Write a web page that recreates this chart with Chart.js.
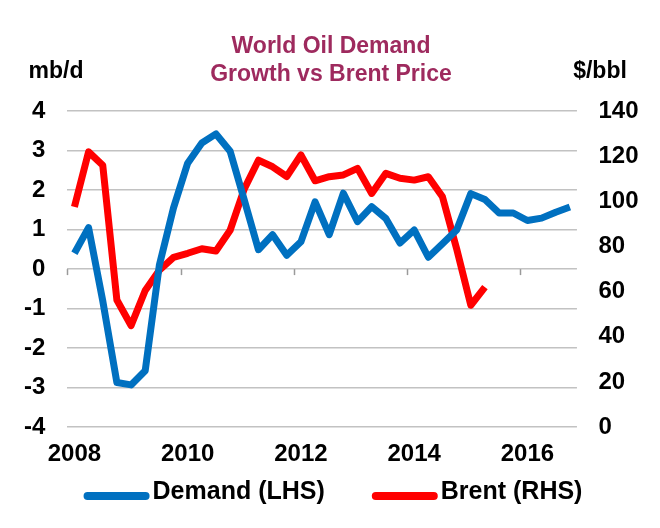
<!DOCTYPE html>
<html>
<head>
<meta charset="utf-8">
<script src="https://cdn.jsdelivr.net/npm/chart.js@4"></script>
<style>
  html, body { margin: 0; padding: 0; background: #ffffff; }
  #wrap { width: 660px; height: 528px; }
</style>
</head>
<body>
<div id="wrap"><canvas id="c" width="660" height="528"></canvas></div>
<script>
// Quarterly categories 2008Q1 .. 2016Q4
const quarters = [
  '2008 Q1','2008 Q2','2008 Q3','2008 Q4',
  '2009 Q1','2009 Q2','2009 Q3','2009 Q4',
  '2010 Q1','2010 Q2','2010 Q3','2010 Q4',
  '2011 Q1','2011 Q2','2011 Q3','2011 Q4',
  '2012 Q1','2012 Q2','2012 Q3','2012 Q4',
  '2013 Q1','2013 Q2','2013 Q3','2013 Q4',
  '2014 Q1','2014 Q2','2014 Q3','2014 Q4',
  '2015 Q1','2015 Q2','2015 Q3','2015 Q4',
  '2016 Q1','2016 Q2','2016 Q3','2016 Q4'
];
const yearTickLabels = ['2008', '2010', '2012', '2014', '2016'];

// World oil demand growth, mb/d (left axis)
const demandGrowth = [
  0.40, 1.05, -0.80, -2.87, -2.93, -2.57, 0.10, 1.55,
  2.68, 3.19, 3.42, 2.98, 1.75, 0.49, 0.87, 0.35,
  0.69, 1.70, 0.87, 1.92, 1.20, 1.58, 1.28, 0.66,
  0.99, 0.30, 0.64, 0.99, 1.91, 1.76, 1.42, 1.42,
  1.23, 1.29, 1.44, 1.57
];

// Brent price, $/bbl (right axis)
const brentPrice = [
  97.6, 121.9, 116.0, 56.3, 45.0, 60.5, 69.5, 75.2,
  77.0, 79.0, 78.0, 87.2, 105.5, 118.2, 115.3, 111.0,
  120.5, 109.1, 110.9, 111.7, 114.6, 103.5, 112.4, 110.2,
  109.4, 110.9, 102.0, 79.0, 54.0, 62.0, null, null,
  null, null, null, null
];

const seriesNames = ['Demand (LHS)', 'Brent (RHS)'];
const leftAxisTitle = 'mb/d';
const rightAxisTitle = '$/bbl';
const chartTitle = ['World Oil Demand', 'Growth vs Brent Price'];

const FONT = "'Liberation Sans', Arial, Helvetica, sans-serif";
const BLUE = '#0070C0';
const RED = '#FF0000';

// Small tick marks on the zero line at the year boundaries
const zeroTicks = {
  id: 'zeroTicks',
  beforeDatasetsDraw(chart) {
    const x = chart.scales.x, y = chart.scales.y;
    const ctx = chart.ctx;
    const half = (x.getPixelForValue(1) - x.getPixelForValue(0)) / 2;
    const y0 = y.getPixelForValue(0);
    ctx.save();
    ctx.strokeStyle = '#9A9A9A';
    ctx.lineWidth = 1.5;
    for (let i = 0; i < quarters.length; i += 8) {
      const px = Math.round(x.getPixelForValue(i) - half) + 0.5;
      ctx.beginPath();
      ctx.moveTo(px, y0);
      ctx.lineTo(px, y0 + 6);
      ctx.stroke();
    }
    ctx.restore();
  }
};

// Axis unit captions above each value axis
const unitCaptions = {
  id: 'unitCaptions',
  afterDraw(chart) {
    const ctx = chart.ctx;
    ctx.save();
    ctx.fillStyle = '#000000';
    ctx.font = 'bold 23px ' + FONT;
    ctx.textBaseline = 'alphabetic';
    ctx.textAlign = 'center';
    ctx.fillText(leftAxisTitle, 56, 78);
    ctx.fillText(rightAxisTitle, 600, 78);
    ctx.restore();
  }
};

// Legend drawn below the axis, line sample touching the text
const lineLegend = {
  id: 'lineLegend',
  afterDraw(chart) {
    const ctx = chart.ctx;
    const ds = chart.data.datasets;
    const sampleW = 66, gapText = 3, gapItems = 47;
    ctx.save();
    ctx.font = 'bold 25px ' + FONT;
    const widths = ds.map(d => ctx.measureText(d.label).width);
    let total = 0;
    widths.forEach((w, i) => { total += sampleW + gapText + w + (i ? gapItems : 0); });
    let x = 333 - total / 2;
    const yLine = 496, yText = 499;
    ds.forEach((d, i) => {
      ctx.strokeStyle = d.borderColor;
      ctx.lineWidth = 8;
      ctx.lineCap = 'round';
      ctx.beginPath();
      ctx.moveTo(x + 4, yLine);
      ctx.lineTo(x + sampleW - 4, yLine);
      ctx.stroke();
      ctx.fillStyle = '#000000';
      ctx.textAlign = 'left';
      ctx.textBaseline = 'alphabetic';
      ctx.fillText(d.label, x + sampleW + gapText, yText);
      x += sampleW + gapText + widths[i] + gapItems;
    });
    ctx.restore();
  }
};

new Chart(document.getElementById('c'), {
  type: 'line',
  data: {
    labels: quarters,
    datasets: [
      {
        label: seriesNames[0],
        data: demandGrowth,
        yAxisID: 'y',
        borderColor: BLUE,
        backgroundColor: BLUE,
        borderWidth: 7,
        pointRadius: 0,
        pointHoverRadius: 0,
        tension: 0,
        borderJoinStyle: 'round',
        borderCapStyle: 'butt',
        fill: false
      },
      {
        label: seriesNames[1],
        data: brentPrice,
        yAxisID: 'y1',
        borderColor: RED,
        backgroundColor: RED,
        borderWidth: 7,
        pointRadius: 0,
        pointHoverRadius: 0,
        tension: 0,
        borderJoinStyle: 'round',
        borderCapStyle: 'butt',
        spanGaps: false,
        fill: false
      }
    ]
  },
  options: {
    responsive: false,
    animation: false,
    events: [],
    layout: { padding: { top: 0, left: 2, right: 0, bottom: 46 } },
    plugins: {
      legend: { display: false },
      tooltip: { enabled: false },
      title: {
        display: true,
        text: chartTitle,
        color: '#9E2A5E',
        font: { family: FONT, size: 23, weight: 'bold', lineHeight: 1.25 },
        padding: { top: 32, bottom: 21.5 }
      }
    },
    scales: {
      x: {
        type: 'category',
        offset: true,
        grid: { display: false, drawTicks: false },
        border: { display: false },
        ticks: {
          autoSkip: false,
          maxRotation: 0,
          minRotation: 0,
          padding: 13,
          color: '#000000',
          font: { family: FONT, size: 24, weight: 'bold' },
          callback: function (value, index) {
            return index % 8 === 0 ? yearTickLabels[index / 8] : '';
          }
        }
      },
      y: {
        position: 'left',
        min: -4,
        max: 4,
        grid: { color: '#C2C2C2', lineWidth: 1.5, drawTicks: false },
        border: { display: false },
        ticks: {
          stepSize: 1,
          padding: 22,
          color: '#000000',
          font: { family: FONT, size: 24, weight: 'bold' }
        }
      },
      y1: {
        position: 'right',
        min: 0,
        max: 140,
        grid: { display: false, drawTicks: false },
        border: { display: false },
        ticks: {
          stepSize: 20,
          padding: 21.5,
          color: '#000000',
          font: { family: FONT, size: 24, weight: 'bold' }
        }
      }
    }
  },
  plugins: [zeroTicks, unitCaptions, lineLegend]
});
</script>
</body>
</html>
